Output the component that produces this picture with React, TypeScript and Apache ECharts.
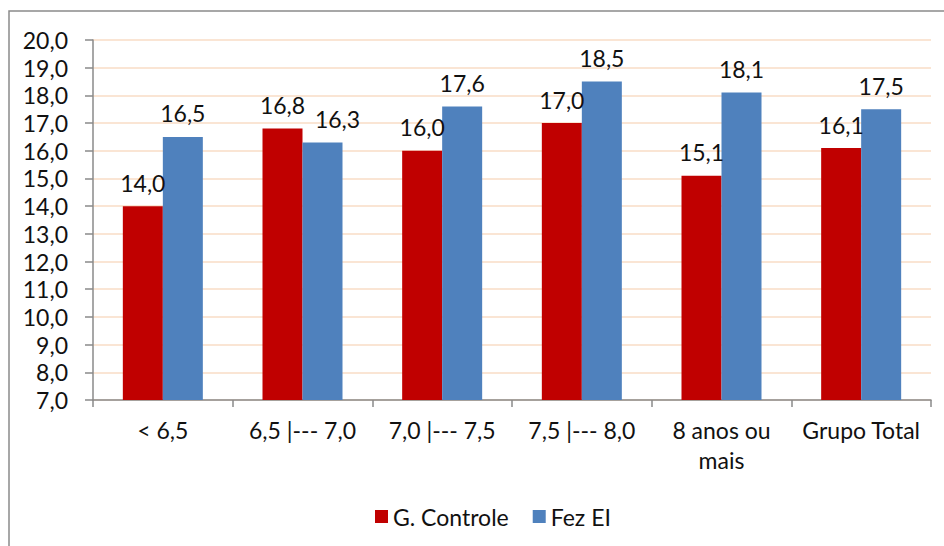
import React, { useEffect, useRef } from "react";
import * as echarts from "echarts";

const categories = ["< 6,5", "6,5 |--- 7,0", "7,0 |--- 7,5", "7,5 |--- 8,0", "8 anos ou\nmais", "Grupo Total"];
const controleValues = [14.0, 16.8, 16.0, 17.0, 15.1, 16.1];
const fezEIValues = [16.5, 16.3, 17.6, 18.5, 18.1, 17.5];
const seriesNames = ["G. Controle", "Fez EI"];

const FONT = "Lato";
const FS = 23;
const fmt = (v: number) => v.toFixed(1).replace(".", ",");

export default function App() {
  const ref = useRef<HTMLDivElement>(null);
  useEffect(() => {
    document.body.style.margin = "0";
    if (!ref.current) return;
    const chart = echarts.init(ref.current, undefined, { renderer: "svg" });
    const labelStyle = {
      show: true,
      position: "top" as const,
      distance: 12,
      fontFamily: FONT,
      fontSize: FS,
      color: "#111111",
      formatter: (p: any) => fmt(p.value),
    };
    const blueData = fezEIValues.map((v, i) =>
      i === 1 ? { value: v, label: { offset: [15, 0] } } : v
    );
    chart.setOption({
      animation: false,
      backgroundColor: "#ffffff",
      textStyle: { fontFamily: FONT },
      graphic: [
        {
          type: "rect",
          shape: { x: 9, y: 11, width: 1000, height: 1000 },
          style: { fill: "none", stroke: "#8a8a8a", lineWidth: 1.5 },
          silent: true,
        },
      ],
      grid: { left: 93, right: 13, top: 40, bottom: 146, containLabel: false },
      legend: {
        data: seriesNames,
        left: 370,
        top: 500,
        itemWidth: 13,
        itemHeight: 13,
        itemGap: 24,
        icon: "rect",
        textStyle: { fontFamily: FONT, fontSize: FS, color: "#111111" },
      },
      xAxis: {
        type: "category",
        data: categories,
        axisLine: { lineStyle: { color: "#8a8a8a", width: 1.5 } },
        axisTick: { show: true, length: 7, lineStyle: { color: "#8a8a8a", width: 1.5 } },
        axisLabel: {
          interval: 0,
          margin: 15,
          fontFamily: FONT,
          fontSize: FS,
          lineHeight: 30,
          color: "#111111",
        },
      },
      yAxis: {
        type: "value",
        min: 7,
        max: 20,
        interval: 1,
        axisLine: { show: true, lineStyle: { color: "#8a8a8a", width: 1.5 } },
        axisTick: { show: true, length: 8, lineStyle: { color: "#8a8a8a", width: 1.5 } },
        splitLine: { lineStyle: { color: "#f8dcc6", width: 1.5 } },
        axisLabel: {
          margin: 25,
          fontFamily: FONT,
          fontSize: FS,
          color: "#111111",
          formatter: (v: number) => fmt(v),
        },
      },
      series: [
        {
          name: seriesNames[0],
          type: "bar",
          data: controleValues,
          barWidth: 40,
          barGap: "0%",
          itemStyle: { color: "#c00000" },
          label: labelStyle,
        },
        {
          name: seriesNames[1],
          type: "bar",
          data: blueData,
          barWidth: 40,
          barGap: "0%",
          itemStyle: { color: "#4f81bd" },
          label: labelStyle,
        },
      ],
    });
    return () => chart.dispose();
  }, []);
  return <div ref={ref} style={{ width: 944, height: 546 }} />;
}
